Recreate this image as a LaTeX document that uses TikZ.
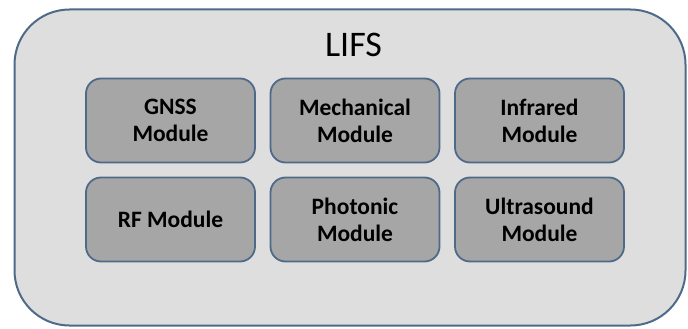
\documentclass[tikz,border=0pt]{standalone}
\usepackage{fontspec}
\setmainfont{Carlito}
\definecolor{outerfill}{HTML}{DEDEDE}
\definecolor{innerfill}{HTML}{A6A6A6}
\definecolor{edgecol}{HTML}{4E6A88}
\begin{document}
\begin{tikzpicture}[x=1pt,y=-1pt,
  modbox/.style={draw=edgecol, line width=1.8pt, fill=innerfill, rounded corners=15pt,
    minimum width=169pt, minimum height=84pt, inner sep=0pt, align=center,
    font=\fontsize{23.5}{27}\selectfont\bfseries, text=black}]
\useasboundingbox (0,0) rectangle (688,329);
\node[draw=edgecol, line width=2pt, fill=outerfill, rounded corners=55pt,
  minimum width=671pt, minimum height=316pt, inner sep=0pt] (lifs) at (350,167.5) {};
\node[font=\fontsize{36}{40}\selectfont, text=black, inner sep=0pt] (title) at (353.5,44.5) {LIFS};
\node[modbox] (gnss) at (170.5,120.5) {GNSS\\Module};
\node[modbox] (mech) at (355,120.5) {Mechanical\\Module};
\node[modbox] (ir) at (539.5,120.5) {Infrared\\Module};
\node[modbox] (rf) at (170.5,219.5) {RF Module};
\node[modbox] (photo) at (355,219.5) {Photonic\\Module};
\node[modbox] (us) at (539.5,219.5) {Ultrasound\\Module};
\end{tikzpicture}
\end{document}
